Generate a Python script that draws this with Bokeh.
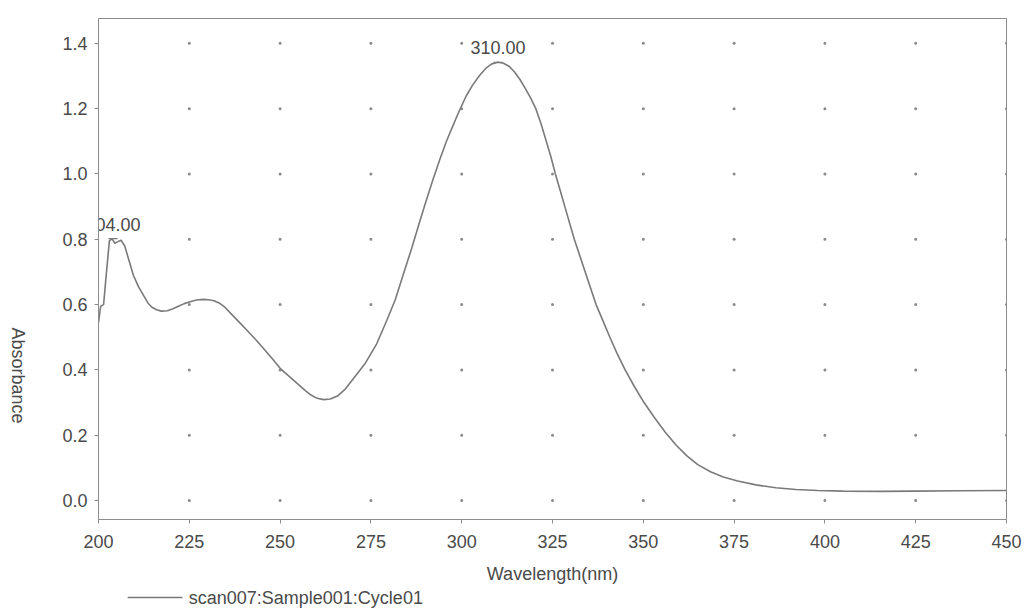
from math import pi
from bokeh.plotting import figure
from bokeh.layouts import row, column
from bokeh.models import Range1d, FixedTicker, ColumnDataSource
from bokeh.core.properties import value
from bokeh.embed import file_html
from bokeh.resources import INLINE

# ---- data ----
wavelength = [200.0, 200.6, 201.4, 202.2, 203.0, 203.7, 204.5, 205.2, 206.2, 207.2,
              208.4, 209.6, 211.0, 212.4, 213.6, 214.7, 216.0, 217.3, 219.0, 220.5,
              222.0, 223.6, 225.2, 227.0, 228.8, 230.3, 231.8, 233.2, 234.8, 236.4,
              238.6, 241.0, 243.2, 245.5, 247.8, 250.0, 252.5, 255.0, 256.8, 258.5,
              260.2, 262.0, 263.8, 265.8, 268.0, 270.1, 273.3, 276.6, 279.4, 281.7,
              284.0, 286.3, 288.2, 290.0, 292.0, 294.0, 295.8, 297.6, 299.4, 301.2,
              303.0, 304.8, 306.6, 308.3, 310.0, 311.5, 313.0, 314.5, 316.0, 317.5,
              319.0, 320.4, 321.8, 323.1, 324.5, 325.8, 327.1, 328.4, 329.7, 331.0,
              332.5, 334.0, 335.5, 337.0, 338.9, 340.8, 342.8, 345.0, 347.5, 350.2,
              353.0, 356.0, 359.0, 362.0, 365.0, 368.5, 372.0, 376.0, 381.0, 386.5,
              392.0, 398.0, 405.0, 415.0, 425.0, 437.0, 450.0]
absorbance = [0.545, 0.595, 0.600, 0.700, 0.795, 0.802, 0.788, 0.792, 0.797, 0.780,
              0.735, 0.690, 0.655, 0.628, 0.605, 0.592, 0.584, 0.580, 0.581, 0.587,
              0.595, 0.603, 0.609, 0.614, 0.616, 0.615, 0.612, 0.605, 0.592, 0.573,
              0.548, 0.520, 0.494, 0.465, 0.435, 0.405, 0.380, 0.356, 0.338, 0.323,
              0.313, 0.309, 0.311, 0.320, 0.342, 0.372, 0.418, 0.480, 0.552, 0.615,
              0.695, 0.775, 0.845, 0.910, 0.980, 1.045, 1.100, 1.148, 1.195, 1.238,
              1.272, 1.300, 1.323, 1.337, 1.342, 1.339, 1.330, 1.313, 1.290, 1.262,
              1.232, 1.200, 1.155, 1.107, 1.055, 1.000, 0.950, 0.900, 0.850, 0.800,
              0.750, 0.700, 0.650, 0.600, 0.550, 0.500, 0.450, 0.400, 0.350, 0.300,
              0.255, 0.210, 0.170, 0.137, 0.110, 0.088, 0.072, 0.060, 0.048, 0.039,
              0.034, 0.031, 0.029, 0.028, 0.029, 0.030, 0.031]

x_ticks = [200, 225, 250, 275, 300, 325, 350, 375, 400, 425, 450]
y_ticks = [0.0, 0.2, 0.4, 0.6, 0.8, 1.0, 1.2, 1.4]
y_tick_labels = ["0.0", "0.2", "0.4", "0.6", "0.8", "1.0", "1.2", "1.4"]

peak_wl = [204.0, 310.0]
peak_abs = [0.802, 1.342]
peak_labels = ["204.00", "310.00"]

series_name = "scan007:Sample001:Cycle01"
x_title = "Wavelength(nm)"
y_title = "Absorbance"

FONT = "Liberation Sans"
TXT = "#4a4a4a"
AX = "#8c8c8c"
CURVE = "#7a7a7a"

# ---------------- main spectrum panel ----------------
p = figure(width=996, height=586,
           x_range=Range1d(200, 450), y_range=Range1d(-0.058, 1.476),
           output_backend="svg", toolbar_location=None,
           min_border_left=64, min_border_right=24,
           min_border_top=18, min_border_bottom=66)
p.background_fill_color = "white"
p.border_fill_color = "white"
p.outline_line_color = AX
p.outline_line_width = 1
p.grid.visible = False

# dotted grid: small dots at every tick intersection
gx = [x for x in x_ticks[1:] for _ in y_ticks]
gy = [y for _ in x_ticks[1:] for y in y_ticks]
p.scatter(gx, gy, size=3, color="#8a8a8a", line_color=None)

src = ColumnDataSource(dict(x=wavelength, y=absorbance))
p.line("x", "y", source=src, line_color=CURVE, line_width=1.6)

# peak markers and labels
p.scatter(peak_wl, peak_abs, marker="dash", size=9, line_color=CURVE, line_width=1.2)
p.text(x=peak_wl, y=peak_abs, text=peak_labels, text_align="center",
       text_baseline="bottom", y_offset=-8,
       text_font=value(FONT), text_font_size="18px", text_color=TXT)

for ax in (p.xaxis[0], p.yaxis[0]):
    ax.axis_line_color = AX
    ax.major_tick_line_color = AX
    ax.major_tick_out = 4
    ax.major_tick_in = 0
    ax.minor_tick_line_color = None
    ax.major_label_text_font = FONT
    ax.major_label_text_font_size = "18px"
    ax.major_label_text_color = TXT
    ax.axis_label_text_font = FONT
    ax.axis_label_text_font_size = "18px"
    ax.axis_label_text_font_style = "normal"
    ax.axis_label_text_color = TXT

p.xaxis.ticker = FixedTicker(ticks=x_ticks)
p.xaxis.major_label_standoff = 11
p.xaxis.axis_label = x_title
p.xaxis.axis_label_standoff = 13

p.yaxis.ticker = FixedTicker(ticks=y_ticks)
p.yaxis.major_label_overrides = {t: s for t, s in zip(y_ticks, y_tick_labels)}
p.yaxis.major_label_standoff = 7


def helper(w, h):
    fig = figure(width=w, height=h, x_range=Range1d(0, w), y_range=Range1d(0, h),
                 x_axis_type=None, y_axis_type=None,
                 output_backend="svg", toolbar_location=None,
                 min_border_left=0, min_border_right=0,
                 min_border_top=0, min_border_bottom=0)
    fig.grid.visible = False
    fig.outline_line_color = None
    fig.background_fill_color = "white"
    fig.border_fill_color = "white"
    return fig


# ---------------- y title strip (reads top to bottom, below centre) ----------------
ylab = helper(34, 615)
ylab.text(x=[17], y=[240], text=[y_title], angle=-pi / 2,
          text_align="center", text_baseline="middle",
          text_font=value(FONT), text_font_size="18px", text_color=TXT)

# ---------------- legend strip under the x title (pixel coordinates) ----------------
leg = helper(996, 29)
leg.line(x=[32, 92], y=[18, 18], line_color=CURVE, line_width=1.6)
leg.text(x=[99], y=[18], text=[series_name], text_align="left", text_baseline="middle",
         text_font=value(FONT), text_font_size="18px", text_color=TXT)

layout = row(ylab, column(p, leg, spacing=0), spacing=0)

open("out.html", "w").write(file_html(layout, INLINE))
